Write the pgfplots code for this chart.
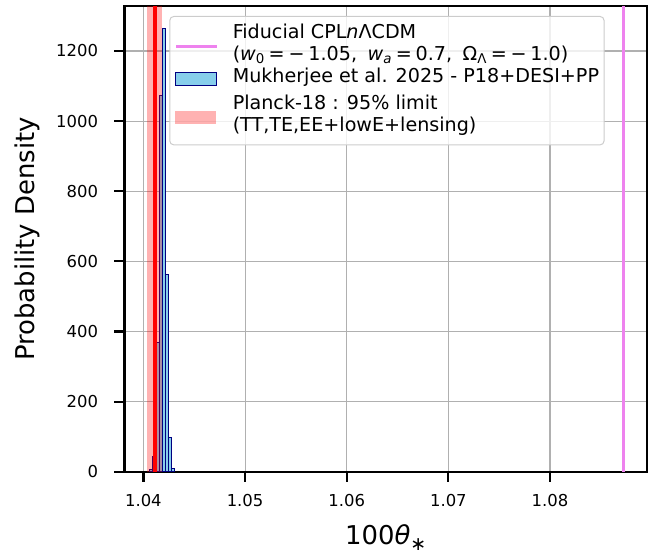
\documentclass[border=0pt]{standalone}
\usepackage{fontspec}
\setmainfont{DejaVu Sans}
\usepackage{pgfplots}
\pgfplotsset{compat=1.18}

\definecolor{histfill}{HTML}{87CEEB}
\definecolor{histedge}{HTML}{000080}
\definecolor{fidviolet}{HTML}{EE82EE}
\definecolor{gridgray}{HTML}{B0B0B0}
\definecolor{legframe}{HTML}{CCCCCC}

% histogram of 100theta_* (bin left edges, density); last row closes the interval
\pgfplotstableread{
x        y
1.040630 7
1.040937 45
1.041244 370
1.041551 1072
1.041858 1263
1.042165 562
1.042472 97
1.042779 8
1.043086 8
}\histdata

\newcommand{\sq}{\hspace{0.2em}}
% legend keys
\newcommand{\keyline}{\tikz[baseline={(0,-7.2bp)}]\draw[fidviolet, line width=3bp, sharp corners, draw opacity=1] (0bp,0bp) -- (41bp,0bp);}
\newcommand{\keyhist}{\tikz[baseline={(0,-7.2bp)}]\draw[fill=histfill, draw=histedge, line width=1bp, sharp corners, fill opacity=1, draw opacity=1] (0bp,-6.5bp) rectangle (41bp,6.5bp);}
\newcommand{\keyband}{\tikz[baseline={(0,-7.2bp)}]\fill[red, fill opacity=0.3, sharp corners] (0bp,-6.5bp) rectangle (41bp,6.5bp);}

\begin{document}
\begin{tikzpicture}
\begin{axis}[
  name=ax,
  scale only axis, width=522.5bp, height=465.6bp,
  xmin=1.03814, xmax=1.08954, ymin=0, ymax=1327.7,
  axis line style={line width=2.4bp, black},
  every tick/.style={black, line width=2.2bp},
  major tick length=10bp, tick align=outside, tick pos=left,
  xtick={1.04,1.05,1.06,1.07,1.08}, ytick={0,200,...,1200},
  scaled x ticks=false,
  /pgf/number format/1000 sep={},
  /pgf/number format/assume math mode=true,
  tick label style={font=\fontsize{16.5}{19}\selectfont},
  xticklabel style={yshift=-9bp, /pgf/number format/.cd, fixed, fixed zerofill, precision=2},
  yticklabel style={xshift=-13bp},
  grid=major, grid style={color=gridgray, line width=1.1bp},
  xlabel={100\textit{θ}\raisebox{-0.45ex}{\fontsize{19}{19}\selectfont ∗}},
  ylabel={Probability Density},
  every axis x label/.style={at={(axis description cs:0.5,-0.1418)}, anchor=center, font=\fontsize{26}{30}\selectfont},
  every axis y label/.style={at={(axis description cs:-0.1866,0.5)}, anchor=center, rotate=90, font=\fontsize{26}{30}\selectfont},
]
\addplot[fidviolet, line width=3bp] coordinates {(1.0872,-10) (1.0872,1400)};

\addplot[ybar interval, fill=histfill, draw=histedge, line width=1bp]
  table[x=x, y=y] {\histdata};

\addplot[fill=red, fill opacity=0.3, draw=none]
  coordinates {(1.04038,-10) (1.04180,-10) (1.04180,1400) (1.04038,1400)} -- cycle;

\addplot[red, line width=3.4bp] coordinates {(1.04114,-10) (1.04114,1400)};

\node[anchor=north west, draw=legframe, line width=1bp, rounded corners=4bp,
      fill=white, fill opacity=0.8, text opacity=1, inner xsep=5bp, inner ysep=7bp,
      font=\fontsize{19.2}{22}\selectfont]
  at (rel axis cs:0.0857,0.979) {%
  \begin{tabular}{@{}l@{\hspace{14bp}}l@{}}
  \keyline & \begin{tabular}[c]{@{}l@{}}Fiducial CPL\textit{n}ΛCDM\\(\textit{w}\textsubscript{0}\sq=\sq−\sq1.05,\hspace{0.55em}\textit{w}\textsubscript{\textit{a}}\sq=\sq0.7,\hspace{0.55em}Ω\textsubscript{Λ}\sq=\sq−\sq1.0)\end{tabular}\\[6.8bp]
  \keyhist & Mukherjee et al. 2025 - P18+DESI+PP\\[4.8bp]
  \keyband & \begin{tabular}[c]{@{}l@{}}Planck-18 : 95\% limit\\(TT,TE,EE+lowE+lensing)\end{tabular}
  \end{tabular}};
\end{axis}
\pgfresetboundingbox
\path[shift={(ax.south west)}] (-124.5bp,-84.2bp) rectangle (532.5bp,471.8bp);
\end{tikzpicture}
\end{document}
